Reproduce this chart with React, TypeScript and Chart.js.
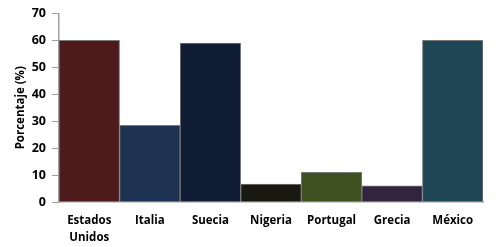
import React, { useEffect, useRef } from "react";
import { Chart, registerables } from "chart.js";

Chart.register(...registerables);

const categories: (string | string[])[] = [
  ["Estados", "Unidos"],
  "Italia",
  "Suecia",
  "Nigeria",
  "Portugal",
  "Grecia",
  "México",
];
const values = [60, 28.5, 59, 6.7, 11, 6, 60];
const barColors = ["#4E1B1D", "#1E3351", "#111D35", "#19190F", "#3E5221", "#32233F", "#1E4654"];
const yTicks = [0, 10, 20, 30, 40, 50, 60, 70];

export default function App() {
  const ref = useRef<HTMLCanvasElement>(null);
  useEffect(() => {
    document.body.style.margin = "0";
    const ctx = ref.current!;
    const font = "'Open Sans', sans-serif";
    const chart = new Chart(ctx, {
      type: "bar",
      data: {
        labels: categories,
        datasets: [
          {
            data: values,
            backgroundColor: barColors,
            borderColor: "#7A7A7A",
            borderWidth: 1,
            barPercentage: 1,
            categoryPercentage: 1,
          },
        ],
      },
      options: {
        animation: false,
        responsive: false,
        maintainAspectRatio: false,
        layout: { padding: { top: 11, right: 17, left: 0, bottom: 0 } },
        plugins: { legend: { display: false }, tooltip: { enabled: false } },
        scales: {
          x: {
            grid: { display: false, drawTicks: false },
            border: { color: "#A0A0A0", width: 1.5 },
            ticks: {
              color: "#000",
              font: { family: font, weight: "bold", size: 11.5, lineHeight: 1.5 },
              padding: 10,
              maxRotation: 0,
              autoSkip: false,
            },
            afterFit: (s: any) => {
              s.height = 45;
            },
          },
          y: {
            min: 0,
            max: 70,
            afterBuildTicks: (s: any) => {
              s.ticks = yTicks.map((v) => ({ value: v }));
            },
            grid: { drawOnChartArea: false, tickLength: 7, color: "#A0A0A0" },
            border: { color: "#A0A0A0", width: 1.5 },
            ticks: {
              color: "#000",
              font: { family: font, weight: "bold", size: 12.5 },
              padding: 6,
            },
            title: {
              display: true,
              text: "Porcentaje (%)",
              color: "#000",
              font: { family: font, weight: "bold", size: 11.5 },
              padding: { top: 14, bottom: 0 },
            },
            afterFit: (s: any) => {
              s.width = 59;
            },
          },
        },
      },
    });
    return () => chart.destroy();
  }, []);
  return (
    <div style={{ position: "absolute", left: 0, top: 0, width: 500, height: 247, background: "#fff" }}>
      <canvas ref={ref} width={500} height={247} style={{ width: 500, height: 247 }} />
    </div>
  );
}
